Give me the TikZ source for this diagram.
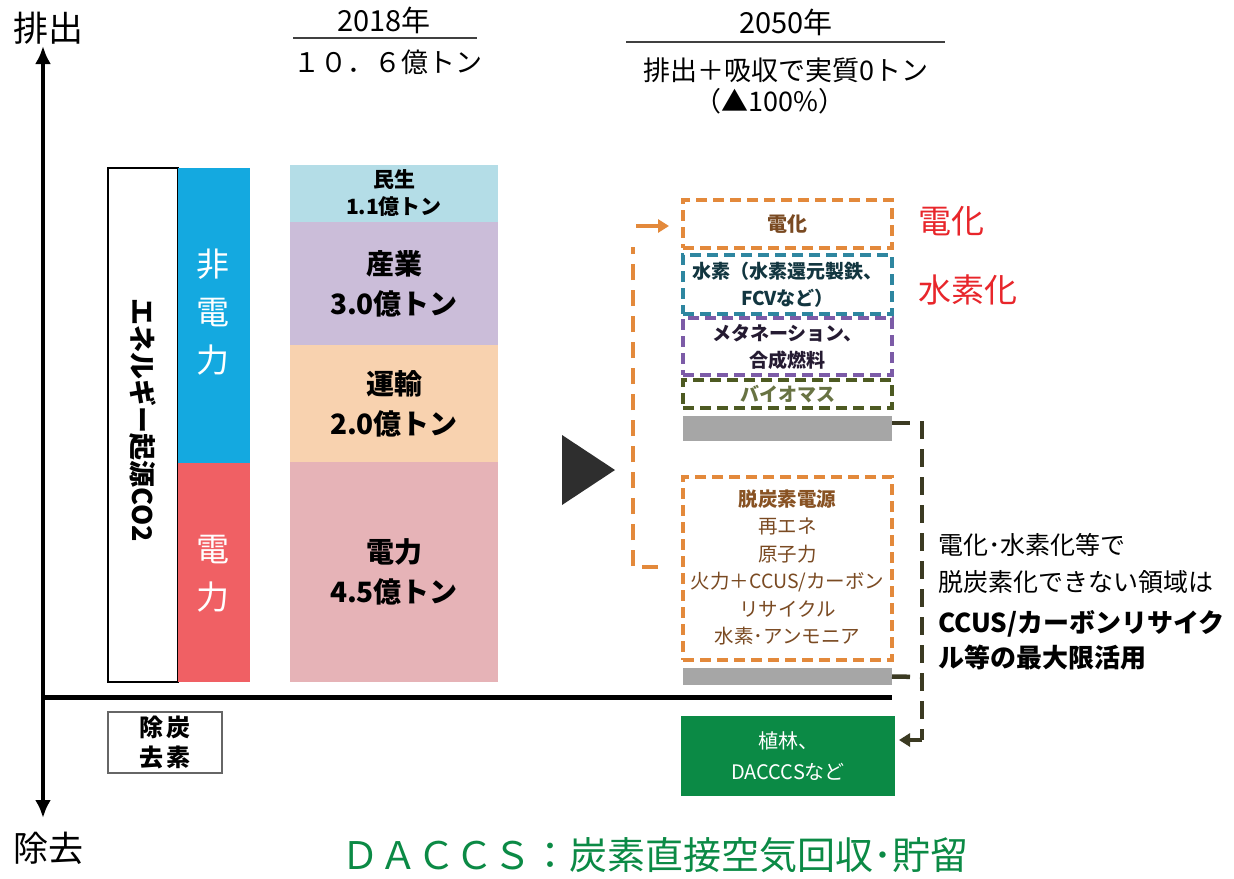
\documentclass[tikz,border=0pt]{standalone}
\usepackage{fontspec}
\setmainfont{Noto Sans CJK JP}
\usetikzlibrary{arrows.meta,calc}
\definecolor{cblue}{HTML}{14A9E0}
\definecolor{cred}{HTML}{F06064}
\definecolor{cminsei}{HTML}{B4DDE7}
\definecolor{csangyo}{HTML}{CBBDD9}
\definecolor{cunyu}{HTML}{F8D2AF}
\definecolor{cdenryoku}{HTML}{E6B3B7}
\definecolor{corange}{HTML}{E3893B}
\definecolor{cteal}{HTML}{2E86A0}
\definecolor{cpurple}{HTML}{7C5BA7}
\definecolor{colive}{HTML}{4D5A22}
\definecolor{cgray}{HTML}{A6A6A6}
\definecolor{cgreen}{HTML}{0B8A45}
\definecolor{cbrown}{HTML}{7A4A22}
\definecolor{cdark}{HTML}{3B3A22}
\definecolor{cbrightred}{HTML}{E8262B}
\newcommand\fsz[2]{\fontsize{#1}{#2}\selectfont}
\begin{document}
\begin{tikzpicture}[x=1pt,y=-1pt,
  blk/.style={inner sep=0,outer sep=0,anchor=north west},
  col/.style={blk,minimum width=208},
  rbox/.style={blk,draw,dash pattern=on 11 off 6,line width=3.5,minimum width=209},
  gbar/.style={blk,fill=cgray,minimum width=209},
  txt/.style={inner sep=0,align=center},
  orgline/.style={draw=corange,line width=4.5,dash pattern=on 16 off 10},
  dkline/.style={draw=cdark,line width=4.5,dash pattern=on 18 off 10},
]
\useasboundingbox[fill=white] (0,0) rectangle (1234,878);

% axis
\coordinate (axtop) at (43,46);
\coordinate (axbot) at (43,818);
\draw[line width=4.5,{Latex[length=18,width=16]}-{Latex[length=18,width=16]}] (axbot) -- (axtop);
\coordinate (blL) at (43,697);
\coordinate (blR) at (892,697);
\draw[line width=5] (blL) -- (blR);
\node[txt,font=\fsz{35}{40}] (haishutsu) at (48,28) {排出};
\node[txt,font=\fsz{35}{40}] (jokyo) at (48,848) {除去};

% left boxes
\node[blk,draw,line width=1.2,minimum width=70,minimum height=514] (eco) at (108,168) {};
\node[txt,rotate=-90,font=\bfseries\fsz{27}{30}] (ecotxt) at (143,420) {エネルギー起源CO2};
\node[blk,fill=cblue,minimum width=72,minimum height=295] (hiden) at (178,168) {};
\node[txt,white,font=\fsz{33}{48}] (hidentxt) at (213,312) {非\\電\\力};
\node[blk,fill=cred,minimum width=72,minimum height=219] (den) at (178,463) {};
\node[txt,white,font=\fsz{33}{48}] (dentxt) at (213,574) {電\\力};

% column 2018
\node[col,fill=cminsei,minimum height=57] (minsei) at (290,165) {};
\node[txt,font=\bfseries\fsz{21}{27}] at (minsei.center) {民生\\1.1億トン};
\node[col,fill=csangyo,minimum height=123] (sangyo) at (290,222) {};
\node[txt,font=\bfseries\fsz{28}{40}] at (sangyo.center) {産業\\3.0億トン};
\node[col,fill=cunyu,minimum height=117] (unyu) at (290,345) {};
\node[txt,font=\bfseries\fsz{28}{40}] at (unyu.center) {運輸\\2.0億トン};
\node[col,fill=cdenryoku,minimum height=220] (denryoku) at (290,462) {};
\node[txt,font=\bfseries\fsz{28}{40}] at (denryoku.center) {電力\\4.5億トン};

% headers
\node[txt,font=\fsz{29}{30}] (y2018) at (384,20) {2018年};
\coordinate (l18a) at (293,38); \coordinate (l18b) at (477,38);
\draw[line width=1.2,black!75] (l18a) -- (l18b);
\node[txt,font=\fsz{27}{30}] (t2018) at (388,62) {１０．６億トン};
\node[txt,font=\fsz{29}{30}] (y2050) at (786,22) {2050年};
\coordinate (l50a) at (626,42); \coordinate (l50b) at (945,42);
\draw[line width=1.2,black!75] (l50a) -- (l50b);
\node[txt,font=\fsz{27}{30}] (t2050) at (786,70) {排出＋吸収で実質0トン};
\node[txt,font=\fsz{27}{30}] (p2050) at (770,101) {（▲100\%）};

% triangle
\fill[black!82] (562,435) -- (615,470) -- (562,505) -- cycle;

% right boxes
\node[rbox,draw=corange,minimum height=48] (denka) at (683,200) {};
\node[txt,text=cbrown,font=\bfseries\fsz{20}{26}] at (denka.center) {電化};
\node[rbox,draw=cteal,minimum height=59] (suiso) at (683,255) {};
\node[txt,text=cteal!40!black,font=\bfseries\fsz{19}{27}] at (suiso.center) {水素（水素還元製鉄、\\FCVなど）};
\node[rbox,draw=cpurple,minimum height=57] (meta) at (683,318) {};
\node[txt,text=cpurple!30!black,font=\bfseries\fsz{19}{27}] at (meta.center) {メタネーション、\\合成燃料};
\node[rbox,draw=colive,minimum height=28] (bio) at (683,380) {};
\node[txt,text=colive!85!white,font=\bfseries\fsz{19}{24}] at (bio.center) {バイオマス};
\node[gbar,minimum height=25] (gray1) at (683,416) {};
\node[rbox,draw=corange,minimum height=183] (datsu) at (683,477) {};
\node[txt,text=cbrown,font=\fsz{19.5}{27.5}] (datsutxt) at ($(datsu.center)+(0,-1)$) {{\bfseries\color{corange!60!black}脱炭素電源}\\再エネ\\原子力\\火力＋CCUS/カーボン\\リサイクル\\水素･アンモニア};
\node[gbar,minimum height=17] (gray2) at (683,668) {};
\node[blk,fill=cgreen,minimum width=214,minimum height=80] (green) at (681,716) {};
\node[txt,white,font=\fsz{20}{31}] at (green.center) {植林、\\DACCCSなど};

% red labels
\node[txt,text=cbrightred,font=\fsz{33}{36}] (rdenka) at (951,221) {電化};
\node[txt,text=cbrightred,font=\fsz{33}{36}] (rsuiso) at (968,290) {水素化};

% orange connector
\coordinate (o1) at (658,567);
\coordinate (o2) at (633,567);
\coordinate (o3) at (633,247);
\coordinate (oa) at (636,226);
\draw[orgline] (o1) -- (o2) -- (o3);
\draw[corange,line width=4,-{Triangle[length=11,width=13]}] (oa) -- ($(denka.west)+(-14,2)$);

% dark connector
\coordinate (d1) at (922,423);
\coordinate (d2) at (922,740);
\coordinate (d3) at (922,677);
\draw[dkline] (gray1.north east |- d1) -- (d1) -- (d2);
\draw[dkline] (gray2.east) -- (d3);
\draw[cdark,line width=4,-{Triangle[length=11,width=13]}] (d2) -- ($(green.east |- d2)+(4,0)$);

% right text
\node[txt,anchor=west,align=left,font=\fsz{25}{37}] (rt1) at (938,563) {電化･水素化等で\\脱炭素化できない領域は};
\node[txt,anchor=west,align=left,font=\bfseries\fsz{26}{35}] (rt2) at (938,640) {CCUS/カーボンリサイク\\ル等の最大限活用};

% removal box
\node[blk,draw=black!60,line width=1.2,minimum width=114,minimum height=61] (jotan) at (108,712) {};
\node[txt,font=\bfseries\fsz{24}{30}] at (jotan.center) {除\hspace{4pt}炭\\去\hspace{4pt}素};

% bottom caption
\node[txt,text=cgreen,font=\fsz{38}{40}] (cap) at (655,855) {ＤＡＣＣＳ：炭素直接空気回収･貯留};
\end{tikzpicture}
\end{document}
